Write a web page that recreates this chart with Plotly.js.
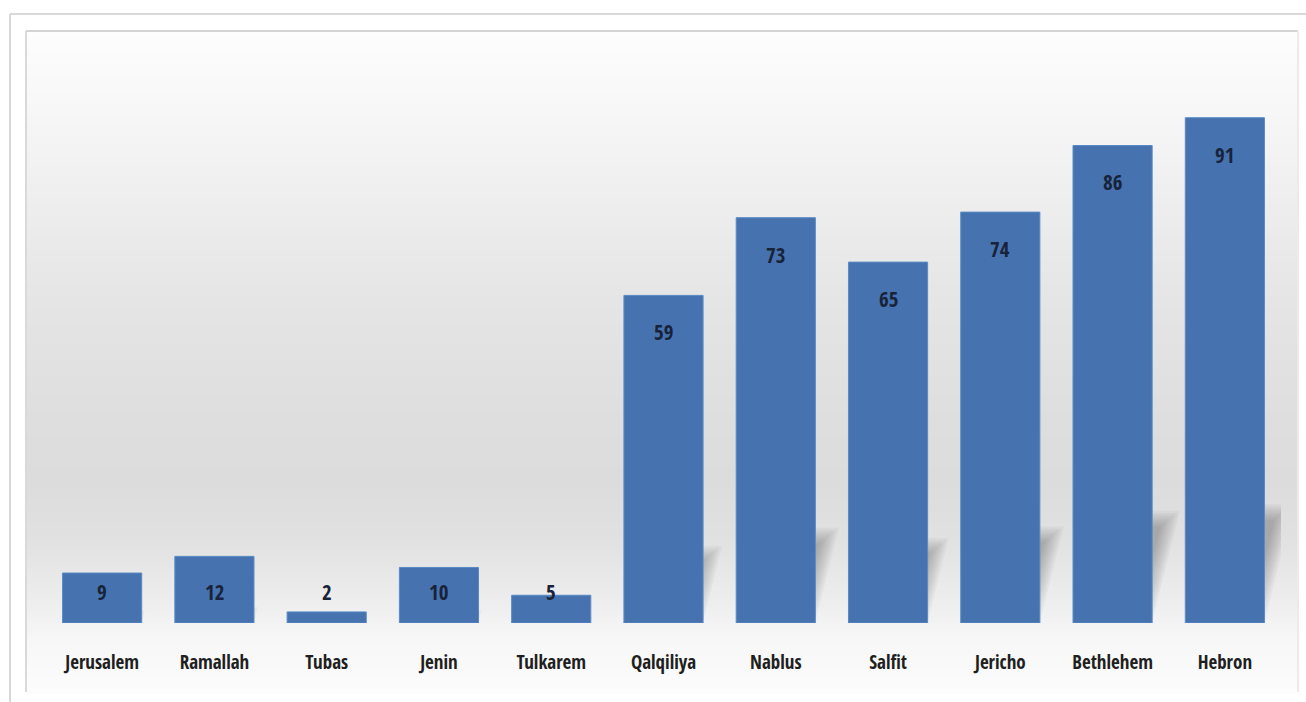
<!DOCTYPE html>
<html>
<head>
<meta charset="utf-8">
<script src="https://cdn.plot.ly/plotly-3.0.1.min.js"></script>
<style>html,body{margin:0;padding:0;background:#fff;}#chart{width:1306px;height:702px;}</style>
</head>
<body>
<div id="chart"></div>
<script>
const categories = ["Jerusalem","Ramallah","Tubas","Jenin","Tulkarem","Qalqiliya","Nablus","Salfit","Jericho","Bethlehem","Hebron"];
const values = [9,12,2,10,5,59,73,65,74,86,91];

const W = 1306, H = 702;
const plotLeft = 46, plotRight = 1281, plotTop = 40, plotBottom = 623;
const yMax = 105;
const pxPerUnit = (plotBottom - plotTop) / yMax;
const catPx = (plotRight - plotLeft) / categories.length;
const FONT = "'Open Sans Condensed', 'Roboto Condensed', 'DejaVu Sans Condensed', sans-serif";

const shapes = [];
// background gradient (inner frame area) built from horizontal bands
const stops = [[31,253],[110,247],[200,238],[300,229],[420,222],[480,220],[540,225],[600,237],[640,247],[692,252]];
function greyAt(py){
  for(let i=0;i<stops.length-1;i++){
    const a=stops[i], b=stops[i+1];
    if(py>=a[0] && py<=b[0]){ const t=(py-a[0])/(b[0]-a[0]); return Math.round(a[1]+(b[1]-a[1])*t); }
  }
  return 252;
}
for(let py=31; py<692; py+=3){
  const g = greyAt(py+1.5);
  shapes.push({type:'rect', xref:'paper', yref:'paper', x0:27/W, x1:1297/W, y0:1-(py+3)/H, y1:1-py/H,
    fillcolor:`rgb(${g},${g},${g})`, line:{width:0}, layer:'below'});
}
// soft skewed bar shadows (layered to imitate blur)
const half = 0.35;
values.forEach((v,i)=>{
  const h = v*0.235;
  const hPx = h*pxPerUnit;
  const skew = (hPx*0.25)/catPx;
  for(let k=0;k<8;k++){
    const ex = (k*2.2)/catPx;
    const ey = (k*2.2)/pxPerUnit;
    const xl = i-half, xr = i+half;
    const top = Math.max(h-ey, 0.3);
    const s = skew*top/h;
    shapes.push({type:'path', xref:'x', yref:'y', layer:'below',
      path:`M ${xl} 0 L ${xr-ex} 0 L ${xr+s-ex} ${top} L ${xl+s} ${top} Z`,
      fillcolor:'rgba(40,40,40,0.042)', line:{width:0}});
  }
});
// frame lines
const ln = (x0,y0,x1,y1,c,w)=>shapes.push({type:'line', xref:'paper', yref:'paper', x0:x0/W, y0:1-y0/H, x1:x1/W, y1:1-y1/H, line:{color:c,width:w}});
ln(10,14,1306,14,'#d9d9d9',2);
ln(10,14,10,702,'#d9d9d9',2);
ln(26,31,1298,31,'#d4d4d4',2);
ln(26,31,26,692,'#d9d9d9',2);
ln(1298,31,1298,692,'#ebebeb',2);

const annotations = values.map((v,i)=>{
  const tall = v*pxPerUnit > 70;
  return {x:categories[i], y: tall ? v : 0, yshift: tall ? -37 : 31, xref:'x', yref:'y',
    text:String(v), showarrow:false, yanchor:'middle',
    font:{family:FONT, size:21, weight:'bold', color:'#18233a'}};
});

const trace = {
  type:'bar', x:categories, y:values,
  marker:{color:'#4673af', line:{color:'#5a8ac6', width:1}},
  hoverinfo:'x+y'
};

const layout = {
  width:W, height:H,
  margin:{l:0,r:0,t:0,b:0},
  paper_bgcolor:'#ffffff', plot_bgcolor:'rgba(0,0,0,0)',
  showlegend:false,
  bargap:0.295,
  xaxis:{domain:[plotLeft/W, plotRight/W], range:[-0.5, categories.length-0.5], autorange:false,
    showgrid:false, zeroline:false, showline:false, ticks:'', fixedrange:true,
    tickfont:{family:FONT, size:19, weight:'bold', color:'#1f1f1f'}, ticklabelstandoff:26},
  yaxis:{domain:[1-plotBottom/H, 1-plotTop/H], range:[0,yMax], autorange:false, visible:false, showgrid:false, zeroline:false},
  shapes:shapes,
  annotations:annotations
};
Plotly.newPlot('chart',[trace],layout,{displayModeBar:false, staticPlot:true});
</script>
</body>
</html>
